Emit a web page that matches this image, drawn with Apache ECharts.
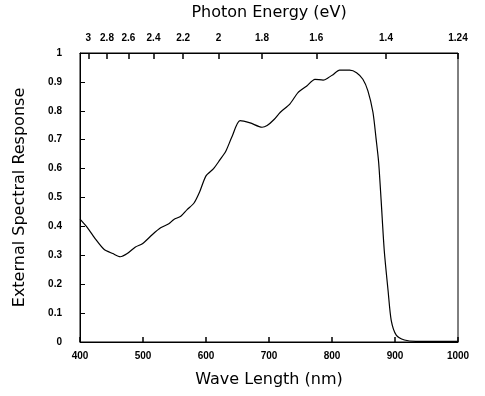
<!DOCTYPE html>
<html>
<head>
<meta charset="utf-8">
<script src="https://cdn.jsdelivr.net/npm/echarts@6/dist/echarts.min.js"></script>
<style>
  html, body { margin: 0; padding: 0; background: #fff; }
  #chart { width: 485px; height: 396px; }
</style>
</head>
<body>
<div id="chart"></div>
<script>
// wavelength (nm) and external spectral response
const wavelength = [400, 412, 425, 438, 452, 464, 475, 488, 499, 515, 528, 541, 549, 560, 570, 581,
  590, 600, 612, 622, 631, 641, 654, 670, 689, 697, 708, 718, 733, 746, 760, 773, 786, 794, 802,
  812, 828, 839, 849, 857, 865, 870, 874, 878, 883, 889, 894, 902, 915, 933, 960, 1000]
const response = [0.425, 0.395, 0.355, 0.321, 0.306, 0.295, 0.306, 0.329, 0.340, 0.372, 0.395, 0.409, 0.424, 0.435, 0.458, 0.481,
  0.520, 0.575, 0.600, 0.630, 0.658, 0.709, 0.766, 0.758, 0.743, 0.749, 0.770, 0.795, 0.823, 0.863, 0.886, 0.909, 0.906, 0.914, 0.926,
  0.941, 0.941, 0.932, 0.909, 0.869, 0.795, 0.703, 0.623, 0.490, 0.315, 0.178, 0.075, 0.024, 0.007, 0.002, 0.002, 0.002]

// top axis tick labels (photon energy, eV)
const energyTicks = [3, 2.8, 2.6, 2.4, 2.2, 2, 1.8, 1.6, 1.4, 1.24]
const energyPos = energyTicks.map(e => 1240 / e)

const tickFont = () => ({ color: '#000', fontSize: 10, fontWeight: 'bold', fontFamily: 'Liberation Sans, Arial, sans-serif' })
const nameFont = () => ({ color: '#000', fontSize: 16, fontFamily: 'DejaVu Sans, sans-serif' })
const black = (w) => ({ color: '#000', width: w || 1 })

const chart = echarts.init(document.getElementById('chart'))

chart.setOption({
  animation: false,
  grid: { left: 80, right: 27, top: 51, bottom: 54, show: true, borderColor: '#000', borderWidth: 1 },
  xAxis: [
    {
      type: 'value',
      min: 400,
      max: 1000,
      interval: 100,
      position: 'bottom',
      name: 'Wave Length (nm)',
      nameLocation: 'middle',
      nameGap: 30,
      nameTextStyle: nameFont(),
      axisLine: { show: true, onZero: false, lineStyle: black() },
      axisTick: { show: true, inside: true, length: 5, lineStyle: black(1.5) },
      axisLabel: Object.assign({ margin: 9, formatter: v => String(v) }, tickFont()),
      splitLine: { show: false }
    },
    {
      // photon energy labels
      type: 'value',
      min: 400,
      max: 1000,
      position: 'top',
      name: 'Photon Energy (eV)',
      nameLocation: 'middle',
      nameGap: 32,
      nameTextStyle: nameFont(),
      axisLine: { show: false },
      axisTick: { show: false },
      axisLabel: Object.assign({
        margin: 10,
        hideOverlap: false,
        customValues: energyPos,
        formatter: v => String(parseFloat((1240 / v).toFixed(2)))
      }, tickFont()),
      splitLine: { show: false }
    },
    {
      // photon energy tick marks
      type: 'value',
      min: 400,
      max: 1000,
      position: 'top',
      axisLine: { show: true, onZero: false, lineStyle: black() },
      axisTick: { show: true, inside: true, length: 6, lineStyle: black(1.5), customValues: energyPos },
      axisLabel: { show: false, customValues: energyPos },
      splitLine: { show: false }
    }
  ],
  yAxis: [
    {
      type: 'value',
      min: 0,
      max: 1,
      interval: 0.1,
      name: 'External Spectral Response',
      nameLocation: 'middle',
      nameGap: 52,
      nameTextStyle: nameFont(),
      axisLine: { show: true, onZero: false, lineStyle: black() },
      axisTick: { show: true, inside: true, length: 5, lineStyle: black() },
      axisLabel: Object.assign({ margin: 18 }, tickFont()),
      splitLine: { show: false }
    }
  ],
  series: [
    {
      type: 'line',
      data: wavelength.map((w, i) => [w, response[i]]),
      symbol: 'none',
      smooth: 0.25,
      lineStyle: { color: '#000', width: 1.2 }
    }
  ]
})
</script>
</body>
</html>
